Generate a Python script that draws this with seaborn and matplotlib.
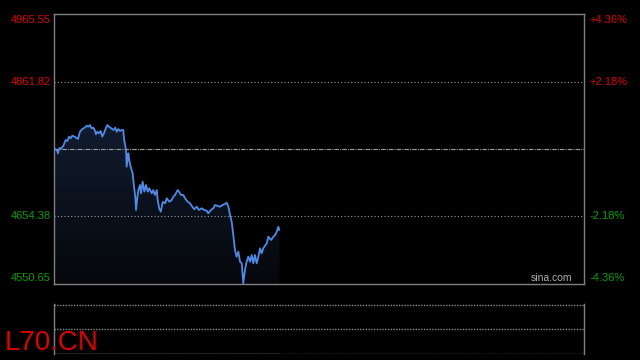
import matplotlib
matplotlib.use("Agg")
import matplotlib.pyplot as plt
from matplotlib.colors import LinearSegmentedColormap
from matplotlib.transforms import offset_copy
import numpy as np
import pandas as pd
import seaborn as sns

# Intraday quote: minutes since the open and last price
minutes = [0.0, 1.1, 2.1, 2.6, 3.3, 4.8, 6.1, 7.6, 8.7, 9.8, 10.9, 11.9,
           13.5, 15.6, 16.9, 18.4, 20.0, 21.3, 22.3, 23.4, 24.5, 25.6, 26.5,
           27.3, 28.2, 29.3, 30.4, 31.4, 32.5, 33.7, 34.7, 35.8, 37.3, 38.6,
           39.9, 40.8, 41.9, 43.0, 44.1, 45.1, 45.6, 46.9, 47.3, 48.4, 49.0,
           49.9, 51.2, 52.1, 52.9, 53.4, 54.2, 54.9, 56.0, 56.6, 57.7, 58.8,
           59.9, 61.0, 62.0, 63.6, 64.6, 65.7, 66.9, 67.5, 68.5, 69.5, 70.8,
           72.3, 73.4, 75.1, 76.6, 77.7, 78.8, 80.5, 81.4, 82.7, 84.2, 85.3,
           87.0, 88.5, 90.0, 91.3, 92.9, 94.4, 96.1, 97.8, 99.4, 100.4,
           102.2, 103.7, 104.8, 106.6, 108.1, 109.6, 111.3, 112.4, 113.5,
           114.6, 115.7, 116.7, 117.8, 118.9, 120.0, 121.1, 122.2, 123.2,
           124.3, 125.4, 126.5, 127.6, 128.7, 129.7, 130.8, 131.9, 133.0,
           134.1, 135.2, 136.2, 138.5, 139.5, 141.3, 142.8, 143.9, 145.0,
           146.0, 146.7]
prices = [4759.17, 4757.64, 4755.02, 4751.49, 4759.17, 4759.17, 4763.17,
          4771.93, 4770.39, 4777.00, 4774.54, 4778.53, 4777.00, 4773.46,
          4784.68, 4788.83, 4790.83, 4793.90, 4792.36, 4794.98, 4789.90,
          4790.83, 4787.29, 4780.69, 4784.68, 4782.22, 4785.76, 4777.00,
          4782.22, 4789.90, 4794.98, 4792.36, 4789.90, 4787.29, 4790.83,
          4784.68, 4788.83, 4785.76, 4787.29, 4787.29, 4773.46, 4756.56,
          4730.90, 4751.49, 4741.19, 4730.90, 4720.75, 4700.16, 4684.80,
          4664.36, 4682.34, 4695.09, 4702.78, 4690.02, 4707.85, 4692.48,
          4702.78, 4692.48, 4697.70, 4690.02, 4695.09, 4687.41, 4695.09,
          4679.73, 4666.97, 4661.75, 4677.10, 4674.65, 4682.34, 4677.10,
          4679.73, 4684.80, 4687.41, 4695.09, 4692.48, 4687.41, 4687.41,
          4682.34, 4677.10, 4674.65, 4669.43, 4665.44, 4669.43, 4664.36,
          4666.97, 4664.36, 4663.29, 4659.29, 4664.36, 4666.97, 4672.04,
          4670.51, 4669.43, 4672.04, 4673.58, 4675.57, 4669.43, 4656.68,
          4645.92, 4625.94, 4602.89, 4592.60, 4600.28, 4584.91, 4582.45,
          4551.72, 4572.16, 4584.91, 4592.60, 4584.91, 4595.21, 4582.45,
          4595.21, 4582.45, 4592.60, 4605.50, 4597.82, 4605.50, 4613.19,
          4623.33, 4618.26, 4623.33, 4625.94, 4631.01, 4638.70, 4633.63]

session_minutes = 345
prev_close = 4758.10
price_ticks = [4550.65, 4654.38, 4861.82, 4965.55]
pct_labels = ["-4.36%", "-2.18%", "+2.18%", "+4.36%"]
symbol = "L70.CN"

df = pd.DataFrame({"minute": minutes, "price": prices})

sns.set_theme(style="dark", rc={"axes.facecolor": "black",
                                "figure.facecolor": "black"})
plt.rcParams["font.family"] = ["Liberation Sans", "DejaVu Sans"]

fig = plt.figure(figsize=(6.4, 3.6), dpi=100)
fig.patch.set_facecolor("black")

ax = fig.add_axes([54 / 640, 1 - 284 / 360, 530 / 640, 270 / 360])
ax.set_facecolor("black")
ymin, ymax = price_ticks[0], price_ticks[-1]
ax.set_xlim(0, session_minutes)
ax.set_ylim(ymin, ymax)

# gradient fill under the price line
grad = LinearSegmentedColormap.from_list("fill", ["#05070b", "#111c2e"])
img = ax.imshow(np.linspace(0, 1, 256).reshape(-1, 1), cmap=grad,
                aspect="auto", origin="lower",
                extent=[0, session_minutes, ymin, max(prices)], zorder=1)
poly = ax.fill_between(df["minute"], df["price"], ymin, color="none", lw=0)
img.set_clip_path(poly.get_paths()[0], transform=ax.transData)

sns.lineplot(data=df, x="minute", y="price", ax=ax, color="#4f8ae6",
             lw=1.3, zorder=3)

# grid lines
for lvl in (price_ticks[1], price_ticks[2]):
    ax.axhline(lvl, color="#9a9a9a", lw=0.8, ls=(0, (1, 2)), zorder=2)
ax.axhline(prev_close, color="#a0a0a0", lw=0.8, ls=(0, (4, 1, 1, 1)), zorder=2)

ax.set_xticks([])
ax.set_yticks([])
ax.set_xlabel("")
ax.set_ylabel("")
for s in ax.spines.values():
    s.set_visible(True)
    s.set_color("#808080")
    s.set_linewidth(1.0)

# price / percentage labels; the outer ones sit just inside the frame
ytrans = ax.get_yaxis_transform()
for val, pct in zip(price_ticks, pct_labels):
    col = "#e00000" if val > prev_close else "#00a000"
    shift = -4.3 if val == ymax else (4.3 if val == ymin else 0)
    tr = offset_copy(ytrans, fig=fig, y=shift, units="points")
    ax.text(-0.006, val, f"{val:.2f}", transform=tr,
            ha="right", va="center", color=col, fontsize=8)
    ax.text(1.011, val, pct, transform=tr,
            ha="left", va="center", color=col, fontsize=8)

ax.text(0.978, 6 / 270, "sina.com", transform=ax.transAxes, ha="right",
        va="center", color="#b0b0b0", fontsize=7.5)

# volume panel
vx = fig.add_axes([54 / 640, 1 - 354 / 360, 530 / 640, 50 / 360])
vx.set_facecolor("black")
vx.set_xlim(0, session_minutes)
vx.set_ylim(0, 2)
vx.set_xticks([])
vx.set_yticks([])
for side in ("left", "right"):
    vx.spines[side].set_color("#808080")
    vx.spines[side].set_linewidth(1.0)
for side in ("top", "bottom"):
    vx.spines[side].set_visible(False)
for lvl in (0.02, 1, 1.98):
    vx.axhline(lvl, color="#8a8a8a", lw=1.0, ls=(0, (1, 1)))
vx.plot([0, max(minutes)], [0.02, 0.02], color="#808080", lw=1.0)

fig.text(5 / 640, 1 - 350 / 360, symbol, color="#e00000", fontsize=20,
         ha="left", va="baseline")

fig.savefig("out.png", dpi=100, facecolor="black")
